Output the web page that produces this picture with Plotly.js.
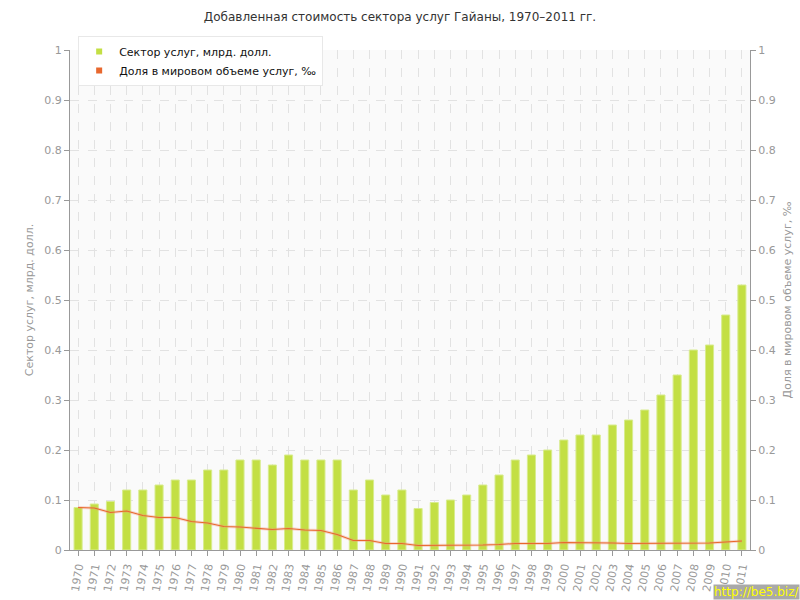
<!DOCTYPE html>
<html>
<head>
<meta charset="utf-8">
<script src="https://cdn.plot.ly/plotly-3.0.1.min.js"></script>
<style>html,body{margin:0;padding:0;background:#fff;}#chart{width:800px;height:600px;}</style>
</head>
<body>
<div id="chart"></div>
<script>
const years = ['1970','1971','1972','1973','1974','1975','1976','1977','1978','1979','1980','1981','1982','1983','1984','1985','1986','1987','1988','1989','1990','1991','1992','1993','1994','1995','1996','1997','1998','1999','2000','2001','2002','2003','2004','2005','2006','2007','2008','2009','2010','2011'];
const servicesValue = [0.085,0.092,0.097,0.12,0.12,0.13,0.14,0.14,0.16,0.16,0.18,0.18,0.17,0.19,0.18,0.18,0.18,0.12,0.14,0.11,0.12,0.083,0.095,0.10,0.11,0.13,0.15,0.18,0.19,0.20,0.22,0.23,0.23,0.25,0.26,0.28,0.31,0.35,0.40,0.41,0.47,0.53];
const worldShare = [0.085,0.084,0.075,0.078,0.069,0.065,0.065,0.057,0.054,0.047,0.046,0.044,0.041,0.043,0.040,0.039,0.031,0.019,0.019,0.013,0.013,0.009,0.009,0.009,0.009,0.010,0.011,0.013,0.013,0.013,0.015,0.015,0.014,0.014,0.013,0.013,0.013,0.013,0.014,0.014,0.016,0.018];
const seriesNames = ['Сектор услуг, млрд. долл.', 'Доля в мировом объеме услуг, ‰'];
const tickVals = [0,0.1,0.2,0.3,0.4,0.5,0.6,0.7,0.8,0.9,1];
const tickText = ['0','0.1','0.2','0.3','0.4','0.5','0.6','0.7','0.8','0.9','1'];

const font = 'Verdana, "DejaVu Sans", sans-serif';
const green = '#c3df44', orange = '#e8682e';
const traces = [
  {type:'bar', x:years, y:servicesValue, name:seriesNames[0], width:0.5,
   marker:{color:green, line:{color:'#d8ec8e', width:1}}, showlegend:false},
  {type:'scatter', mode:'lines', x:years, y:worldShare, yaxis:'y2', showlegend:false, hoverinfo:'skip',
   line:{color:'rgba(240,150,120,0.35)', width:3}},
  {type:'scatter', mode:'lines', x:years, y:worldShare, yaxis:'y2', name:seriesNames[1], showlegend:false,
   line:{color:orange, width:1.1}},
  {type:'scatter', mode:'markers', x:[null], y:[null], name:seriesNames[0], showlegend:true,
   marker:{symbol:'square', color:green, size:6}},
  {type:'scatter', mode:'markers', x:[null], y:[null], yaxis:'y2', name:seriesNames[1], showlegend:true,
   marker:{symbol:'square', color:orange, size:6}}
];
const axisCommon = {range:[0,1], tickvals:tickVals, ticktext:tickText, showline:true, linecolor:'#999', linewidth:1,
  ticks:'outside', ticklen:5, tickcolor:'#999', tickfont:{family:font, size:11, color:'#999'}, zeroline:false};
const layout = {
  width:800, height:600,
  margin:{l:70, r:50, t:50, b:50},
  paper_bgcolor:'#fff', plot_bgcolor:'#fafafa',
  title:{text:'Добавленная стоимость сектора услуг Гайаны, 1970–2011 гг.', x:0.5, xanchor:'center', y:0.972, yanchor:'middle',
    font:{family:font, size:12, color:'#333'}},
  xaxis:{type:'category', range:[-0.5,41.5], tickangle:-80, showline:true, linecolor:'#999', ticks:'outside', ticklen:5, tickcolor:'#999',
    tickfont:{family:font, size:11, color:'#999'}, showgrid:true, gridcolor:'#e2e2e2', griddash:'dash', layer:'above traces', zeroline:false},
  yaxis:Object.assign({}, axisCommon, {title:{text:seriesNames[0], font:{family:font, size:11, color:'#999'}, standoff:8},
    showgrid:true, gridcolor:'#e2e2e2', griddash:'dash', layer:'above traces'}),
  yaxis2:Object.assign({}, axisCommon, {overlaying:'y', side:'right', showgrid:false,
    title:{text:seriesNames[1], font:{family:font, size:11, color:'#999'}, standoff:8}}),
  legend:{x:0.012, y:1.028, xanchor:'left', yanchor:'top', bgcolor:'#fff', bordercolor:'#e8e8e8', borderwidth:1,
    font:{family:font, size:11, color:'#111'}, tracegroupgap:0, itemwidth:30},
  bargap:0.5,
  annotations:[{text:'http://be5.biz/', xref:'paper', yref:'paper', x:1.0735, y:-0.1, xanchor:'right', yanchor:'bottom', showarrow:false,
    bgcolor:'#a9a9a9', font:{family:font, size:12, color:'#ffff00'}, borderpad:0}]
};
Plotly.newPlot('chart', traces, layout, {displayModeBar:false, staticPlot:true});
</script>
</body>
</html>
